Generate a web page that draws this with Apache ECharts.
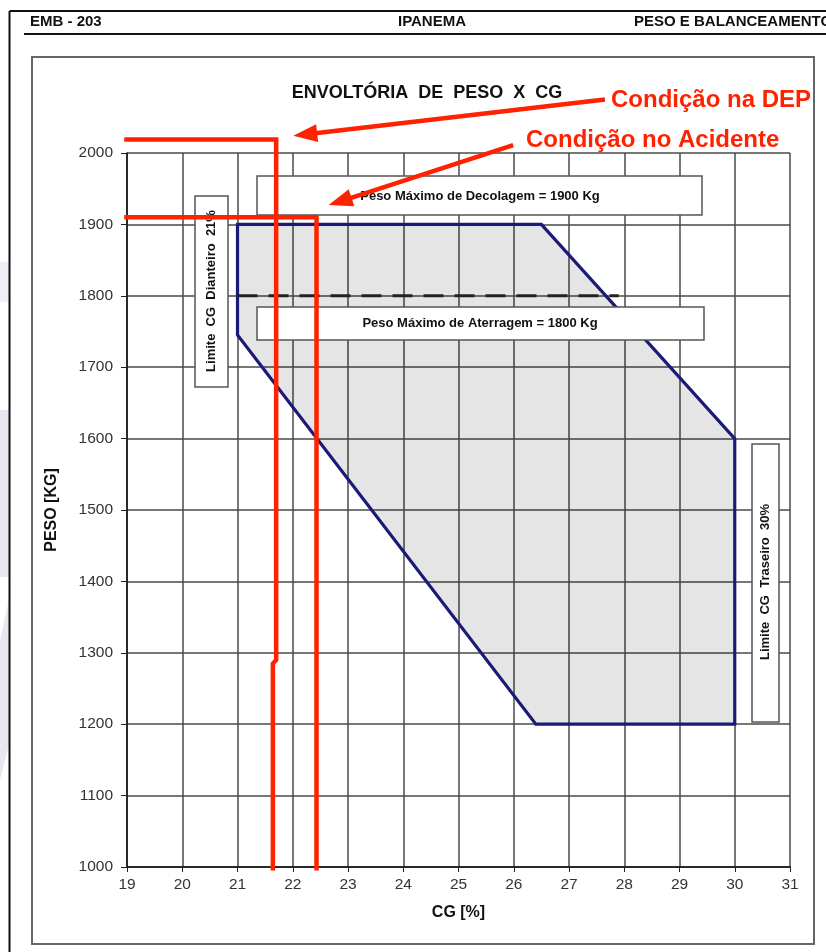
<!DOCTYPE html>
<html lang="pt">

<head>
  <meta charset="UTF-8">
  <title>Envoltória de Peso x CG</title>
  <script src="https://cdn.jsdelivr.net/npm/echarts@6/dist/echarts.min.js"></script>
  <style>
    html, body { margin: 0; padding: 0; background: #fff; }
  </style>
</head>

<body>
  <div id="chart" style="width: 826px;height:952px"></div>
  <script>
    // envelope (CG %, peso kg)
    var envCG = [21, 26.5, 30, 30, 26.4, 21, 21]
    var envPeso = [1900, 1900, 1600, 1200, 1200, 1745, 1900]
    // peso máximo de aterragem (linha tracejada)
    var landCG = [21, 27.9]
    var landPeso = [1800, 1800]
    // condição na DEP / no acidente (linhas vermelhas)
    var depCG = [18.95, 21.7, 21.7, 21.64, 21.64]
    var depPeso = [2019, 2019, 1290, 1285, 995]
    var acdCG = [18.95, 22.43, 22.43]
    var acdPeso = [1910, 1910, 995]
    // setas: cauda CG, cauda peso, ponta CG, ponta peso
    var arrows = [
      [27.65, 2075, 22.01, 2024],
      [25.99, 2011, 22.65, 1927]
    ]

    var font = '"Liberation Sans", Arial, sans-serif'
    var red = '#ff2200'

    function pairs(xs, ys) {
      var out = []
      for (var i = 0; i < xs.length; i++) out.push([xs[i], ys[i]])
      return out
    }

    var mCharts = echarts.init(document.getElementById('chart'))
    var option = {
      animation: false,
      backgroundColor: '#fff',
      grid: { left: 127, top: 153, right: 36, bottom: 85 },
      xAxis: {
        type: 'value', min: 19, max: 31, interval: 1,
        name: 'CG [%]', nameLocation: 'middle', nameGap: 38,
        nameTextStyle: { fontFamily: font, fontWeight: 'bold', fontSize: 16, color: '#111' },
        axisLine: { lineStyle: { color: '#111', width: 1.5 } },
        axisTick: { show: true, length: 5, lineStyle: { color: '#222' } },
        axisLabel: { margin: 10, fontFamily: font, fontSize: 15.5, color: '#333' },
        splitLine: { lineStyle: { color: '#4a4a4a', width: 1.5 } }
      },
      yAxis: {
        type: 'value', min: 1000, max: 2000, interval: 100,
        name: 'PESO [KG]', nameLocation: 'middle', nameGap: 67,
        nameTextStyle: { fontFamily: font, fontWeight: 'bold', fontSize: 16, color: '#111' },
        axisLine: { show: true, lineStyle: { color: '#111', width: 1.5 } },
        axisTick: { show: true, length: 6, lineStyle: { color: '#222' } },
        axisLabel: {
          margin: 14, fontFamily: font, fontSize: 15.5, color: '#333',
          formatter: function (v) { return String(v) }
        },
        splitLine: { lineStyle: { color: '#4a4a4a', width: 1.5 } }
      },
      series: [
        {
          type: 'custom',
          z: 2,
          data: pairs(envCG, envPeso),
          renderItem: function (params, api) {
            if (params.dataIndex > 0) return
            var pts = []
            for (var i = 0; i < envCG.length; i++) pts.push(api.coord([envCG[i], envPeso[i]]))
            return {
              type: 'polygon',
              shape: { points: pts },
              style: { fill: 'rgba(0,0,0,0.1)', stroke: '#1a1a78', lineWidth: 3.2, lineJoin: 'miter' }
            }
          }
        },
        {
          type: 'line', z: 3, symbol: 'none',
          data: pairs(landCG, landPeso),
          lineStyle: { color: '#222', width: 3, type: [20, 11] }
        },
        {
          type: 'line', z: 20, symbol: 'none', clip: false,
          data: pairs(depCG, depPeso),
          lineStyle: { color: red, width: 4.5, join: 'miter' }
        },
        {
          type: 'line', z: 20, symbol: 'none', clip: false,
          data: pairs(acdCG, acdPeso),
          lineStyle: { color: red, width: 4.5, join: 'miter' }
        },
        {
          // setas vermelhas
          type: 'custom', z: 21, clip: false,
          data: arrows,
          renderItem: function (params, api) {
            var a = api.coord([api.value(0), api.value(1)])
            var b = api.coord([api.value(2), api.value(3)])
            var dx = b[0] - a[0], dy = b[1] - a[1]
            var len = Math.sqrt(dx * dx + dy * dy)
            var ux = dx / len, uy = dy / len
            var hl = 24, hw = 9
            var base = [b[0] - ux * hl, b[1] - uy * hl]
            return {
              type: 'group',
              children: [
                {
                  type: 'line',
                  shape: { x1: a[0], y1: a[1], x2: base[0] + ux * 2, y2: base[1] + uy * 2 },
                  style: { stroke: red, lineWidth: 4.5 }
                },
                {
                  type: 'polygon',
                  shape: {
                    points: [b, [base[0] - uy * hw, base[1] + ux * hw], [base[0] + uy * hw, base[1] - ux * hw]]
                  },
                  style: { fill: red }
                }
              ]
            }
          }
        }
      ],
      graphic: [
        // marca d'água na margem
        { type: 'rect', z: 0, shape: { x: 0, y: 262, width: 9, height: 40 }, style: { fill: '#eeeef5' } },
        { type: 'rect', z: 0, shape: { x: 0, y: 410, width: 9, height: 167 }, style: { fill: '#e8e8f2' } },
        { type: 'polygon', z: 0, shape: { points: [[0, 640], [9, 600], [9, 745], [0, 780]] }, style: { fill: '#e8e8f2' } },
        // página
        { type: 'line', z: 1, shape: { x1: 9.5, y1: 11, x2: 826, y2: 11 }, style: { stroke: '#111', lineWidth: 2 } },
        { type: 'line', z: 1, shape: { x1: 9.5, y1: 11, x2: 9.5, y2: 952 }, style: { stroke: '#111', lineWidth: 2 } },
        { type: 'line', z: 1, shape: { x1: 24, y1: 34, x2: 826, y2: 34 }, style: { stroke: '#111', lineWidth: 2 } },
        { type: 'text', z: 1, x: 30, y: 22, style: { text: 'EMB - 203', font: 'bold 15px ' + font, fill: '#111', textVerticalAlign: 'middle' } },
        { type: 'text', z: 1, x: 432, y: 22, style: { text: 'IPANEMA', font: 'bold 15px ' + font, fill: '#111', textAlign: 'center', textVerticalAlign: 'middle' } },
        { type: 'text', z: 1, x: 634, y: 22, style: { text: 'PESO E BALANCEAMENTO', font: 'bold 15px ' + font, fill: '#111', textVerticalAlign: 'middle' } },
        { type: 'rect', z: 1, shape: { x: 32, y: 57, width: 782, height: 887 }, style: { fill: 'none', stroke: '#666', lineWidth: 2 } },
        // título
        { type: 'text', z: 1, x: 427, y: 93, style: { text: 'ENVOLTÓRIA  DE  PESO  X  CG', font: 'bold 18px ' + font, fill: '#111', textAlign: 'center', textVerticalAlign: 'middle' } },
        // caixas de texto
        { type: 'rect', z: 10, shape: { x: 257, y: 176, width: 445, height: 39 }, style: { fill: '#fff', stroke: '#555', lineWidth: 1.5 } },
        { type: 'text', z: 11, x: 480, y: 196, style: { text: 'Peso Máximo de Decolagem = 1900 Kg', font: 'bold 13px ' + font, fill: '#111', textAlign: 'center', textVerticalAlign: 'middle' } },
        { type: 'rect', z: 10, shape: { x: 257, y: 307, width: 447, height: 33 }, style: { fill: '#fff', stroke: '#555', lineWidth: 1.5 } },
        { type: 'text', z: 11, x: 480, y: 323, style: { text: 'Peso Máximo de Aterragem = 1800 Kg', font: 'bold 13px ' + font, fill: '#111', textAlign: 'center', textVerticalAlign: 'middle' } },
        { type: 'rect', z: 10, shape: { x: 195, y: 196, width: 33, height: 191 }, style: { fill: '#fff', stroke: '#555', lineWidth: 1.5 } },
        { type: 'text', z: 11, x: 211.5, y: 291, rotation: Math.PI / 2, style: { text: 'Limite  CG  Dianteiro  21%', font: 'bold 13px ' + font, fill: '#111', textAlign: 'center', textVerticalAlign: 'middle' } },
        { type: 'rect', z: 10, shape: { x: 752, y: 444, width: 27, height: 278 }, style: { fill: '#fff', stroke: '#555', lineWidth: 1.5 } },
        { type: 'text', z: 11, x: 765.5, y: 582, rotation: Math.PI / 2, style: { text: 'Limite  CG  Traseiro  30%', font: 'bold 13px ' + font, fill: '#111', textAlign: 'center', textVerticalAlign: 'middle' } },
        // anotações
        { type: 'text', z: 21, x: 611, y: 100, style: { text: 'Condição na DEP', font: 'bold 24px ' + font, fill: red, textVerticalAlign: 'middle' } },
        { type: 'text', z: 21, x: 526, y: 140, style: { text: 'Condição no Acidente', font: 'bold 24px ' + font, fill: red, textVerticalAlign: 'middle' } }
      ]
    }
    mCharts.setOption(option)
  </script>
</body>

</html>
